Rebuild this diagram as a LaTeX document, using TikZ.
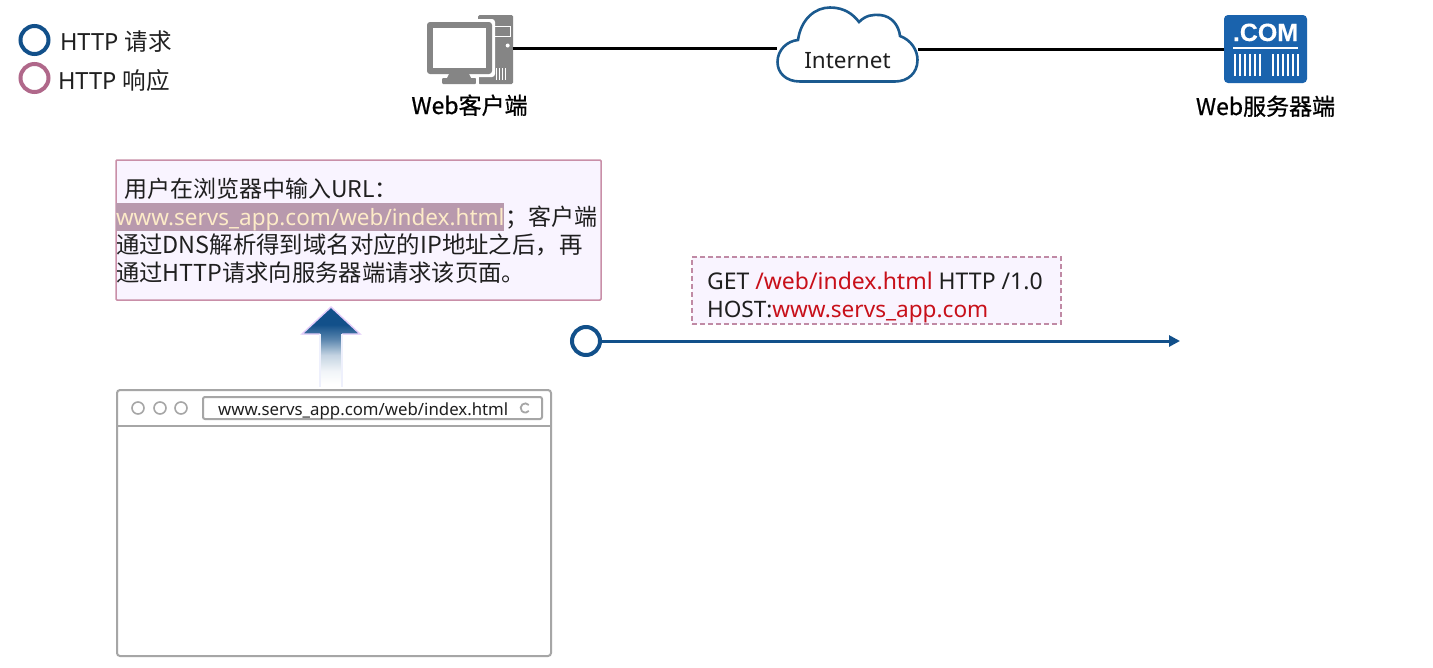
\documentclass[tikz,border=0pt]{standalone}
\usepackage{fontspec}
\setmainfont{Noto Sans}
\newfontfamily\cjk{Noto Sans CJK SC}
\newfontfamily\cjkmed[FakeBold=0.7]{Noto Sans CJK SC}
\newfontfamily\comfont[FakeBold=0.2]{Liberation Sans}
\usetikzlibrary{arrows.meta}
\definecolor{reqblue}{HTML}{12508A}
\definecolor{resppink}{HTML}{B0688A}
\definecolor{dashpink}{HTML}{C08AA5}
\definecolor{boxfill}{HTML}{F9F4FF}
\definecolor{boxline}{HTML}{C98FA8}
\definecolor{hilite}{HTML}{B899AD}
\definecolor{urlcream}{HTML}{FDEBC8}
\definecolor{iconGray}{HTML}{858585}
\definecolor{comblue}{HTML}{1A63AD}
\definecolor{redtxt}{HTML}{C8101A}
\definecolor{browser}{HTML}{A6A6A6}
\definecolor{cloudline}{HTML}{1B5A8F}
\definecolor{headedge}{HTML}{E3CCFA}
\definecolor{shaftedge}{HTML}{EEF0FC}
\pgfdeclareverticalshading{upfade}{100bp}{
 color(0bp)=(white); color(27bp)=(white); color(35bp)=(reqblue!6); color(45bp)=(reqblue!25); color(55bp)=(reqblue!70); color(64bp)=(reqblue); color(100bp)=(reqblue)}
\tikzset{
 txt/.style={inner sep=0pt,outer sep=0pt,anchor=base west,font=\fontsize{23}{26}\selectfont,text=black!88},
 label/.style={inner sep=0pt,anchor=base,font=\fontsize{23}{26}\selectfont\cjkmed,text=black},
 anchorbox/.style={inner sep=0pt,outer sep=0pt,minimum width=#1},
 netline/.style={draw=black,line width=3pt},
 ring/.style={circle,draw=#1,fill=white,line width=4pt,inner sep=0pt,minimum size=28pt},
 panel/.style={draw=boxline,fill=boxfill,line width=1.5pt,rounded corners=1pt},
 gline/.style={draw=browser,line width=2pt},
 dot/.style={circle,draw=browser,line width=1.6pt,inner sep=0pt,minimum size=12pt},
}
\begin{document}
\begin{tikzpicture}[x=1pt,y=-1pt]
\useasboundingbox[fill=white] (0,0) rectangle (1433,667);
% legend
\node[ring=reqblue] (legreq) at (34.5,40) {};
\node[ring=resppink] (legresp) at (34.5,78) {};
\node[txt,font=\fontsize{23.6}{26}\selectfont] (legreqt) at (60,50) {HTTP {\cjk 请求}};
\node[txt,font=\fontsize{23.6}{26}\selectfont] (legrespt) at (58,89) {HTTP {\cjk 响应}};
% client icon
\fill[iconGray,rounded corners=1.5pt] (478,15) rectangle (513,84);
\fill[white,rounded corners=3pt] (424,19) rectangle (495,77);
\fill[iconGray,rounded corners=3pt] (427,22) rectangle (492,74);
\fill[white] (433,28) rectangle (486,68);
\fill[iconGray] (449,74) -- (469,74) -- (471,78) -- (447,78) -- cycle;
\fill[iconGray,rounded corners=1pt] (442,78) rectangle (476,84);
\fill[white] (476,77) rectangle (479,85);
\draw[white,line width=1pt] (494,26) rectangle (510,36);
\fill[white] (507.7,45.5) circle (2pt);
\foreach \vx in {496,499,502,505}{\fill[white] (\vx,68) rectangle (\vx+1.2,80);}
\node[anchorbox=1pt,minimum height=1pt] (client) at (513,48) {};
% cloud
\node[inner sep=0pt,minimum width=141pt,minimum height=76pt] (cloud) at (847.5,45) {};
\draw[cloudline,fill=white,line width=2.6pt] (800,81.5) .. controls (786,81.5) and (777.5,73) .. (777.5,62) .. controls (777.5,50) and (787,41) .. (798,40) .. controls (801,19) and (815,7.5) .. (830,7.5) .. controls (844,7.5) and (853,14) .. (859,22) .. controls (866,15) and (873,14.5) .. (880,15) .. controls (892,16) and (899,26) .. (900,36) .. controls (911,40) and (917.5,50) .. (917.5,60) .. controls (917.5,73) and (908,81.5) .. (895,81.5) -- cycle;
\node[inner sep=0pt,anchor=base,font=\fontsize{22.5}{26}\selectfont,text=black!88] (inet) at (847.5,68) {Internet};
% server icon
\node[anchorbox=83pt,minimum height=68pt,fill=comblue,rounded corners=4pt] (server) at (1265.5,49) {};
\node[inner sep=0pt,anchor=base,font=\fontsize{25}{28}\selectfont\comfont,text=white] (com) at (1265.5,41) {\textbf{.COM}};
\fill[white] (1233,46.5) rectangle (1298,48.5);
\foreach \bx in {1234,1239,1244,1249,1254,1259,1272,1277,1282,1287,1292,1297}{\fill[white] (\bx,54) rectangle (\bx+1.6,76);}
% links
\draw[netline] (client.west) -- (cloud.west |- client.west);
\draw[netline] (cloud.east |- server.west) -- (server.west);
% labels
\node[label] (wc) at (469.5,114) {Web客户端};
\node[label] (ws) at (1265.5,115) {Web服务器端};
% explanation box
\node[panel,inner sep=0pt,minimum width=485pt,minimum height=140pt] (expl) at (358.5,230) {};
\fill[hilite] (116,203) rectangle (504,231);
\node[txt] (l1) at (124,197) {\fontsize{23}{26}\selectfont\cjk 用户在浏览器中输入URL：};
\node[txt] (l2) at (116,225) {\fontsize{22.5}{26}\selectfont\textcolor{urlcream}{www.servs\_app.com/web/index.html}};
\node[txt,anchor=base east] (l2b) at (597,225) {\fontsize{23}{26}\selectfont\cjk ；客户端};
\node[txt] (l3) at (116,253) {\fontsize{23.4}{26}\selectfont\cjk 通过DNS解析得到域名对应的IP地址之后，再};
\node[txt] (l4) at (116,281) {\fontsize{23.3}{26}\selectfont\cjk 通过HTTP请求向服务器端请求该页面。};
% fading arrow
\shade[shading=upfade] (331,307) -- (360,334) -- (342,334) -- (342,387) -- (320,387) -- (320,334) -- (302,334) -- cycle;
\draw[headedge,line width=1.4pt,line join=miter] (320,334) -- (302,334) -- (331,307) -- (360,334) -- (342,334);
\draw[shaftedge,line width=1.2pt] (320,334) -- (320,387) (342,334) -- (342,387);
% browser
\node[draw=browser,line width=2pt,rounded corners=3pt,inner sep=0pt,minimum width=434pt,minimum height=266pt] (win) at (334,523) {};
\draw[gline] (win.west |- 0,426) -- (win.east |- 0,426);
\node[dot] (d1) at (138,408) {};
\node[dot] (d2) at (160,408) {};
\node[dot] (d3) at (181,408) {};
\node[draw=browser,line width=2pt,rounded corners=2pt,inner sep=0pt,minimum width=339pt,minimum height=22pt] (addr) at (372.5,408) {};
\node[inner sep=0pt,anchor=base west,font=\fontsize{16.8}{20}\selectfont,text=black!88] (urltxt) at (218,415.5) {www.servs\_app.com/web/index.html};
\draw[browser,line width=1.8pt] (528.8,405) arc[start angle=40,end angle=320,radius=4.6pt];
% request arrow
\node[ring=reqblue] (start) at (586,341) {};
\coordinate (reqend) at (1180,341);
\draw[reqblue,line width=3pt,-{Triangle[length=11pt,width=11pt]}] (start.east) -- (reqend);
% message box
\node[draw=dashpink,dash pattern=on 5pt off 3pt,fill=boxfill,line width=1.3pt,inner sep=0pt,minimum width=369pt,minimum height=67pt] (msg) at (876.5,290.5) {};
\node[txt] (m1) at (707,289) {GET \textcolor{redtxt}{/web/index.html} HTTP /1.0};
\node[txt,font=\fontsize{22.6}{26}\selectfont] (m2) at (707,317) {HOST:\textcolor{redtxt}{www.servs\_app.com}};
\end{tikzpicture}
\end{document}
